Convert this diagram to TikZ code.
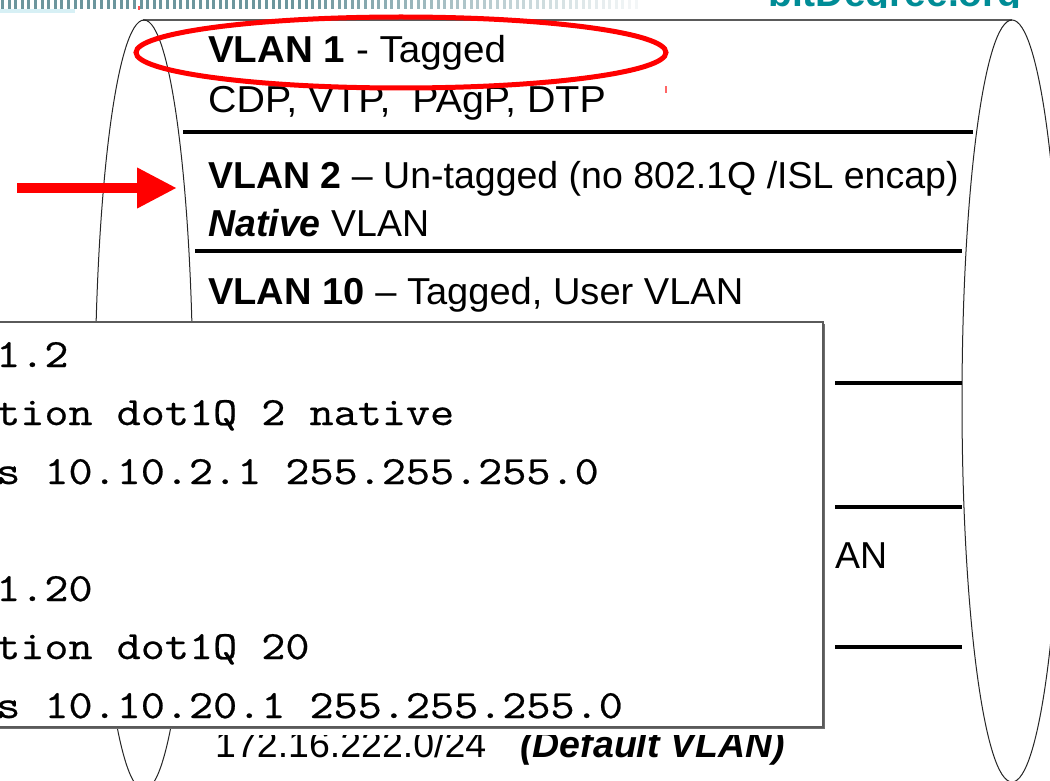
\documentclass[tikz,border=0pt]{standalone}
\usepackage{fontspec}
\setmainfont{Liberation Sans}
\newfontfamily\codefont[FakeStretch=1.17,FakeBold=0.6]{Latin Modern Mono}
\usetikzlibrary{arrows.meta}
\definecolor{stripe}{RGB}{60,115,125}
\definecolor{stripelight}{RGB}{215,240,245}
\definecolor{logoteal}{RGB}{0,140,150}
\definecolor{markred}{RGB}{255,0,0}
\definecolor{framegray}{RGB}{90,90,90}
\definecolor{shadowgray}{RGB}{110,110,110}

\begin{document}
\begin{tikzpicture}[x=1pt,y=-1pt,
  lbl/.style={anchor=base west,inner sep=0pt,font=\fontsize{37.5}{45}\selectfont},
  codeline/.style={anchor=base west,inner sep=0pt,font=\codefont\fontsize{40}{58}\selectfont},
  tube/.style={line width=1pt,black!85},
  rule/.style={line width=3.5pt,black},
  redmark/.style={draw=markred,line width=5pt},
]
\useasboundingbox (0,0) rectangle (1050,781);
\clip (0,0) rectangle (1050,781);
\fill[white] (0,0) rectangle (1050,781);

% header stripe
\foreach \i in {0,...,96}{
  \pgfmathsetmacro\xx{1+6.6*\i}
  \pgfmathsetmacro\op{max(0.06,min(0.75,0.75-(\xx-300)/480))}
  \fill[stripe,fill opacity=\op] (\xx,0) rectangle ++(3,9);
}
\fill[stripelight] (0,9) rectangle (75,13);
\fill[markred!70] (137.5,6) rectangle (139.5,10);

% logo, only its lower part shows
\begin{scope}
  \clip (700,0) rectangle (1050,8);
  \node[anchor=base west,inner sep=0pt,text=logoteal,
        font=\bfseries\fontsize{39}{40}\selectfont] (logo) at (768,7) {bitDegree.org};
\end{scope}

% trunk: end caps and top edge
\coordinate (ltop) at (143,20);
\coordinate (rtop) at (1012,20);
\draw[framegray,line width=2pt] (ltop) -- (rtop);
\draw[tube] (144,405) ellipse [x radius=49pt, y radius=385pt];
\draw[tube] (1012,401) ellipse [x radius=50pt, y radius=381pt];

% separators
\coordinate (s1a) at (183,132); \coordinate (s1b) at (973,132);
\coordinate (s2a) at (195,251); \coordinate (s2b) at (962,251);
\coordinate (s3a) at (835,383); \coordinate (s3b) at (962,383);
\coordinate (s4a) at (835,507); \coordinate (s4b) at (962,507);
\coordinate (s5a) at (835,647); \coordinate (s5b) at (962,647);
\foreach \k in {1,...,5}{ \draw[rule] (s\k a) -- (s\k b); }

% VLAN labels
\node[lbl] (v1) at (208,63) {\scalebox{1.028}[1]{\textbf{VLAN 1} - Tagged}};
\node[lbl] (cdp) at (208,113) {\scalebox{1.05}[1]{CDP, VTP,\ \ PAgP, DTP}};
\node[lbl] (v2) at (208,189) {\textbf{VLAN 2} – Un-tagged (no 802.1Q /ISL encap)};
\node[lbl] (nat) at (208,236) {\textbf{\itshape Native} VLAN};
\node[lbl] (v10) at (208,304) {\scalebox{1.015}[1]{\textbf{VLAN 10} – Tagged, User VLAN}};
\node[lbl] (an) at (835,568) {AN};
\begin{scope}
  \clip (0,735) rectangle (1050,781);
  \node[lbl] (dflt) at (215,757) {172.16.222.0/24\hspace{34pt}{\bfseries\itshape (Default VLAN)}};
\end{scope}

% configuration box
\fill[shadowgray] (-5,324) rectangle (824.5,728.5);
\draw[framegray,line width=1.5pt,fill=white] (-5,322) rectangle (823,727);
\node[codeline] (c1) at (-4,367) {1.2};
\node[codeline] (c2) at (-4,425) {tion dot1Q 2 native};
\node[codeline] (c3) at (-4,484) {s 10.10.2.1 255.255.255.0};
\node[codeline] (c4) at (-4,601) {1.20};
\node[codeline] (c5) at (-4,659) {tion dot1Q 20};
\node[codeline] (c6) at (-4,718) {s 10.10.20.1 255.255.255.0};

% highlights
\draw[redmark] (401,52.5) ellipse [x radius=265pt, y radius=35.5pt];
\coordinate (arrS) at (17,188);
\coordinate (arrE) at (177,188);
\draw[markred,line width=10pt,-{Triangle[length=40pt,width=38pt]}] (arrS) -- (arrE);
\fill[markred!60] (665,86) rectangle (667,93);
\end{tikzpicture}
\end{document}
